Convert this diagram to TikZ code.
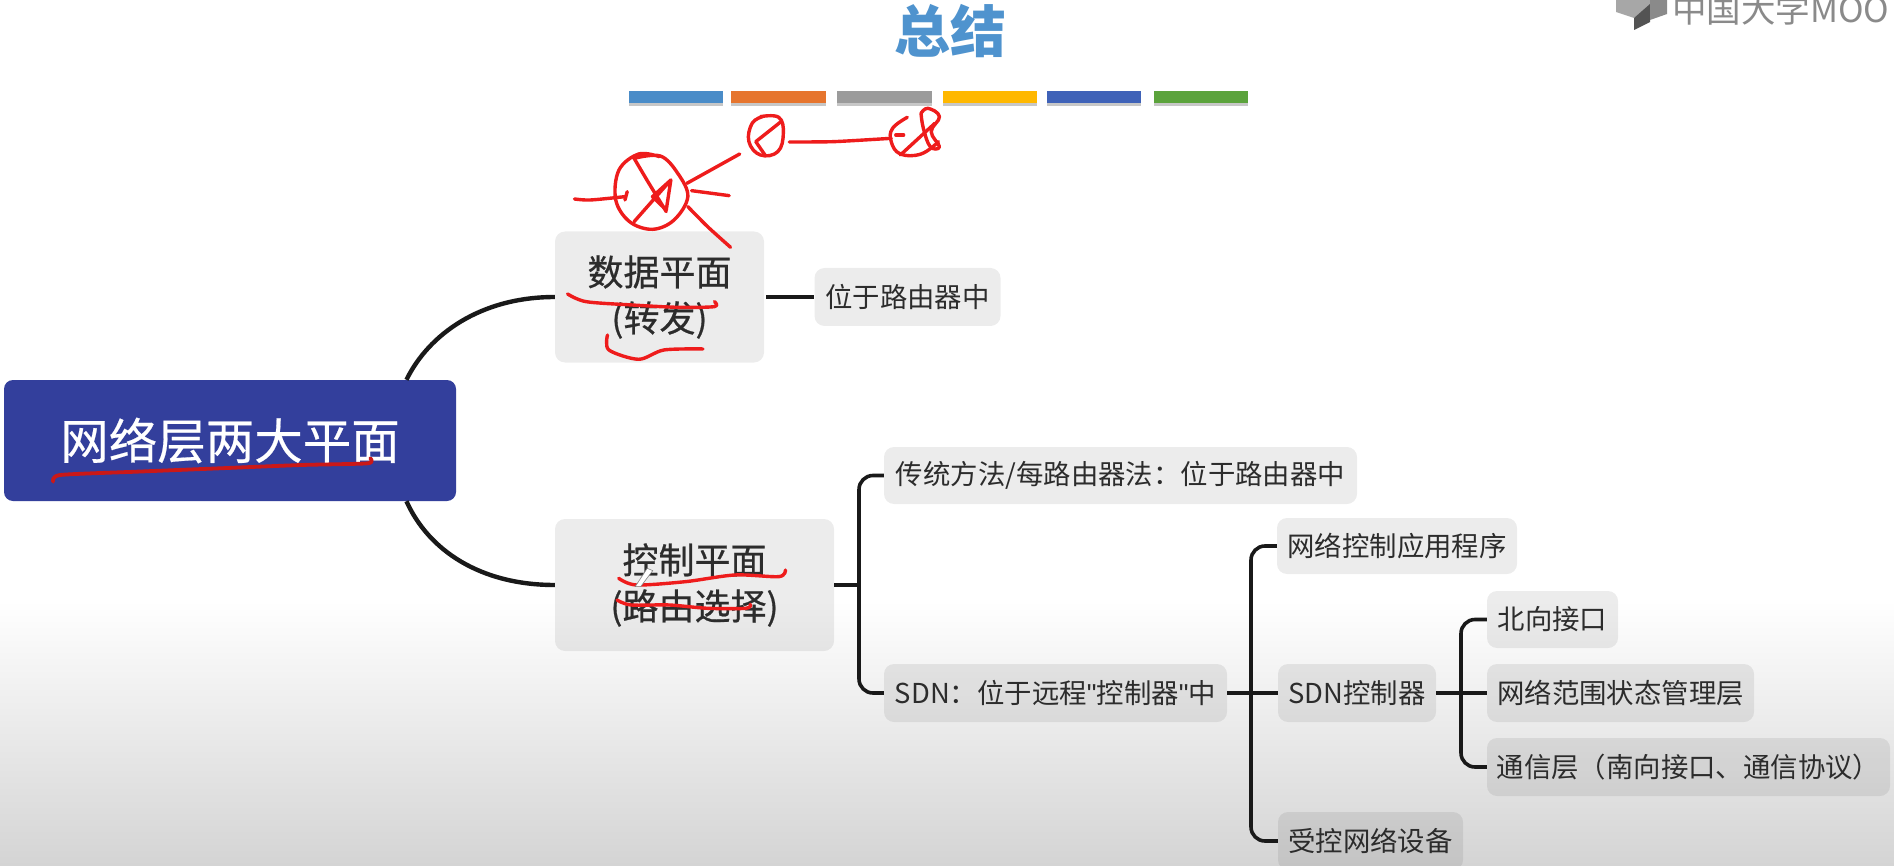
\documentclass[tikz,border=0pt]{standalone}
\usepackage{fontspec}
\setmainfont{Noto Sans CJK SC}
\newfontfamily\quotefont{Liberation Sans}
\usetikzlibrary{calc}
\definecolor{txt}{HTML}{2C2C2C}
\definecolor{ttl}{HTML}{4F93CE}
\definecolor{mainblue}{HTML}{333F9C}
\definecolor{bgend}{HTML}{D4D4D4}
\definecolor{ink}{HTML}{EE1C1C}
\definecolor{markc}{HTML}{8A8A8A}
\tikzset{
  box/.style={draw=none,fill=black,fill opacity=.075,text opacity=1,rounded corners=10pt,inner sep=0pt,text=txt,align=center},
  big/.style={box,font=\fontsize{36}{46}\selectfont\addfontfeature{FakeBold=0.6}},
  small/.style={box,font=\fontsize{27.4}{32}\selectfont},
  link/.style={draw=black!90,line width=4.4pt},
  stem/.style={draw=black!90,line width=3.6pt},
  fork/.style={draw=black!90,line width=3.6pt,rounded corners=14pt},
  barshadow/.style={draw=none,fill=black,opacity=.22},
  pen/.style={draw=ink,line width=3.4pt,line cap=round,line join=round},
  penz/.style={draw=ink,line width=3.8pt,line cap=round,line join=round}
}
\begin{document}
\begin{tikzpicture}[x=1pt,y=-1pt]
\useasboundingbox (0,0) rectangle (1894,866);
\clip (0,0) rectangle (1894,866);
\fill[white] (0,0) rectangle (1894,866);
\shade[top color=white,bottom color=bgend] (0,600) rectangle (1894,866);

% watermark
\fill[markc!75] (1616,12) -- (1616,0) -- (1650,0) -- (1650,6) -- (1634,18) -- cycle;
\fill[markc!60!black] (1634,18) -- (1650,4) -- (1650,22) -- (1634,30) -- cycle;
\fill[markc] (1650,0) -- (1667,0) -- (1667,14) -- (1650,20) -- cycle;
\node[anchor=base west,inner sep=0pt,text=markc,font=\fontsize{34.5}{36}\selectfont] (mooc) at (1672,23) {中国大学MOO};

% title
\node[text=ttl,font=\fontsize{56}{56}\bfseries\selectfont,inner sep=0pt] (title) at (950,31) {总结};

% colour bars
\foreach \xa/\xb/\cc in {629/723/4A8CC8,731/826/E6752E,837/932/9B9B9B,943/1037/FFB800,1047/1141/3F62B8,1154/1248/5BA33C}{
  \fill[barshadow] (\xa,94) rectangle (\xb,106);
  \definecolor{barc}{HTML}{\cc}
  \fill[barc] (\xa,91) rectangle (\xb,103);
}

% nodes
\node[fill=mainblue,rounded corners=9pt,inner sep=0pt,text=white,minimum width=452pt,minimum height=121pt,font=\fontsize{48.5}{50}\selectfont\addfontfeature{FakeBold=0.4}] (main) at (230,440.5) {网络层两大平面};
\node[big,minimum width=209pt,minimum height=131pt] (data) at (659.5,297) {数据平面\\(转发)};
\node[small,minimum width=186pt,minimum height=58pt] (dloc) at (907.5,297) {位于路由器中};
\node[big,minimum width=279pt,minimum height=132pt] (ctrl) at (694.5,585) {控制平面\\(路由选择)};
\node[small,minimum width=473pt,minimum height=57pt] (trad) at (1120.5,475.5) {传统方法/每路由器法：位于路由器中};
\node[small,minimum width=343pt,minimum height=58pt] (sdn) at (1055.5,693) {SDN：位于远程{\quotefont"}控制器{\quotefont"}中};
\node[small,minimum width=240pt,minimum height=56pt] (app) at (1397,546) {网络控制应用程序};
\node[small,minimum width=158pt,minimum height=58pt] (sctl) at (1357,693) {SDN控制器};
\node[small,minimum width=131pt,minimum height=57pt] (north) at (1552.5,619.5) {北向接口};
\node[small,minimum width=267pt,minimum height=58pt] (state) at (1620.5,693) {网络范围状态管理层};
\node[small,minimum width=403pt,minimum height=58pt] (comm) at (1688.5,767) {通信层（南向接口、通信协议）};
\node[small,minimum width=185pt,minimum height=58pt] (dev) at (1370.5,841) {受控网络设备};

% fork joints
\coordinate (j1) at (859,585);
\coordinate (j2) at (1251,693);
\coordinate (j3) at (1461,693);

% connectors
\draw[link] ($(main.north west)!.89!(main.north east)$) .. controls +(22,-45) and (480,297) .. (data.west);
\draw[link] ($(main.south west)!.89!(main.south east)$) .. controls +(22,49) and (480,585) .. (ctrl.west);
\draw[stem] (data.east) ++(2,0) -- (dloc.west);
\draw[fork] (trad.west) -| (j1) |- (sdn.west);
\draw[stem] (ctrl.east) -- (j1);
\draw[fork] (app.west) -| (j2) |- (dev.west);
\draw[stem] (sdn.east) -- (sctl.west);
\draw[fork] (north.west) -| (j3) |- (comm.west);
\draw[stem] (sctl.east) -- (state.west);

% red hand-drawn strokes, upper part (zoom coordinates)
\begin{scope}[shift={(540,0)},x=.4591pt,y=-.3333pt]
  \draw[pen] plot[smooth,tension=.6] coordinates {(205,475)(262,468)(300,520)(322,590)(292,660)(245,688)(195,665)(165,600)(172,510)(215,462)(260,470)};
  \draw[pen] plot[smooth,tension=.3] coordinates {(205,475)(235,545)(275,635)};
  \draw[pen] (205,665) -- (285,540) -- (275,630) -- (245,590) -- (285,540);
  \draw[pen] (190,575) -- (185,600);
  \draw[pen] plot[smooth] coordinates {(75,597)(110,600)(185,590)};
  \draw[pen] (320,550) -- (435,462);
  \draw[pen] (330,572) -- (412,587);
  \draw[pen] plot[smooth,tension=.4] coordinates {(322,620)(365,680)(415,742)};
  \draw[pen] plot[smooth,tension=.7] coordinates {(480,350)(520,352)(530,400)(518,455)(480,465)(455,425)(462,370)(485,350)};
  \draw[pen] (525,365) -- (470,425) -- (490,465);
  \draw[pen] plot[smooth,tension=.4] coordinates {(543,426)(640,425)(765,415)};
  \draw[pen] plot[smooth,tension=.7] coordinates {(800,352)(768,385)(765,425)(785,462)(830,462)(868,425)};
  \draw[pen] plot[smooth,tension=.7] coordinates {(830,340)(845,325)(870,350)(852,395)(870,440)(850,440)(835,385)(830,340)};
  \draw[pen] (785,465) -- (860,370);
  \draw[pen] (775,405) -- (792,405);
  \draw[pen] plot[smooth,tension=.5] coordinates {(60,882)(100,905)(200,915)(300,922)(380,920)(380,905)};
  \draw[pen] plot[smooth,tension=.5] coordinates {(147,1005)(150,1050)(215,1078)(270,1050)(355,1047)};
\end{scope}

% red hand-drawn strokes, lower part
\begin{scope}[shift={(0,360)},x=.5485pt,y=-.3333pt]
  \draw[penz,draw=ink!85!black] plot[smooth,tension=.4] coordinates {(97,365)(110,345)(250,335)(400,325)(550,315)(670,310)(675,295)};
  \draw[pen] plot[smooth,tension=.5] coordinates {(1128,655)(1160,675)(1250,665)(1340,645)(1420,650)(1432,630)};
  \fill[white,draw=gray,line width=.6pt] (1158,680) -- (1180,625) -- (1190,632) -- (1168,680) -- cycle;
  \draw[pen] plot[smooth,tension=.5] coordinates {(1125,720)(1150,735)(1220,735)(1290,745)(1360,745)(1368,733)};
\end{scope}
\end{tikzpicture}
\end{document}
